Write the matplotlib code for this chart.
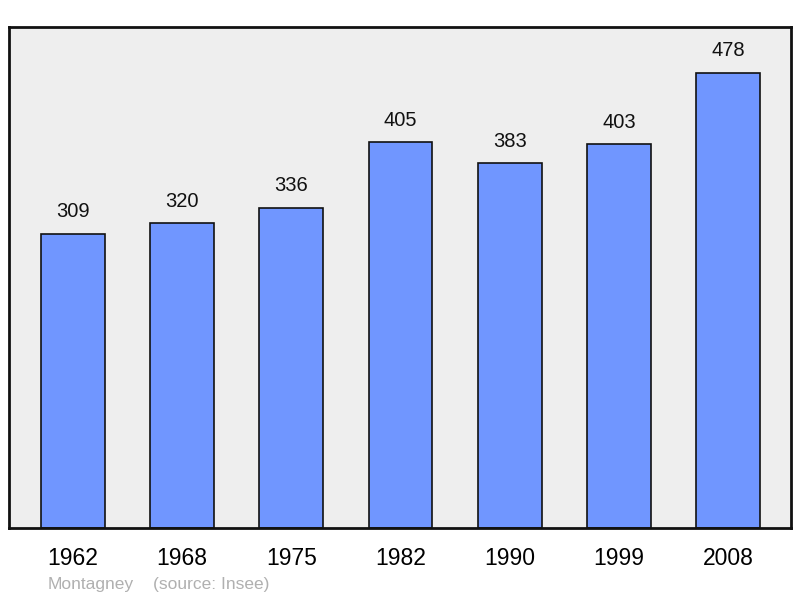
import matplotlib
matplotlib.use("Agg")
import matplotlib.pyplot as plt

years = ["1962", "1968", "1975", "1982", "1990", "1999", "2008"]
population = [309, 320, 336, 405, 383, 403, 478]

plt.rcParams['font.family'] = ['Liberation Sans', 'DejaVu Sans']

fig = plt.figure(figsize=(8, 5.98), dpi=100)
ax = fig.add_axes([9/800, 1-528/598, 782/800, 501/598])
ax.set_facecolor('#eeeeee')
x = range(len(years))
bars = ax.bar(x, population, width=0.585, color='#7096ff', edgecolor='#111111', linewidth=1.2, zorder=2)
for xi, v in zip(x, population):
    ax.annotate(str(v), (xi, v), xytext=(0, 9), textcoords='offset points',
                ha='center', va='bottom', fontsize=14.5, color='#111111')
ax.set_xlim(-0.585, 6.575)
ax.set_ylim(0, 526)
ax.set_yticks([])
ax.set_xticks(list(x))
ax.set_xticklabels(years, fontsize=16.5)
ax.tick_params(axis='x', length=0, pad=14)
for s in ax.spines.values():
    s.set_linewidth(2)
    s.set_color('#111111')
fig.text(48/800, 1-584/598, "Montagney", fontsize=12.5, color='#b0b0b0', va='center')
fig.text(153/800, 1-584/598, "(source: Insee)", fontsize=12.5, color='#b0b0b0', va='center')
fig.savefig("out.png", dpi=100)
